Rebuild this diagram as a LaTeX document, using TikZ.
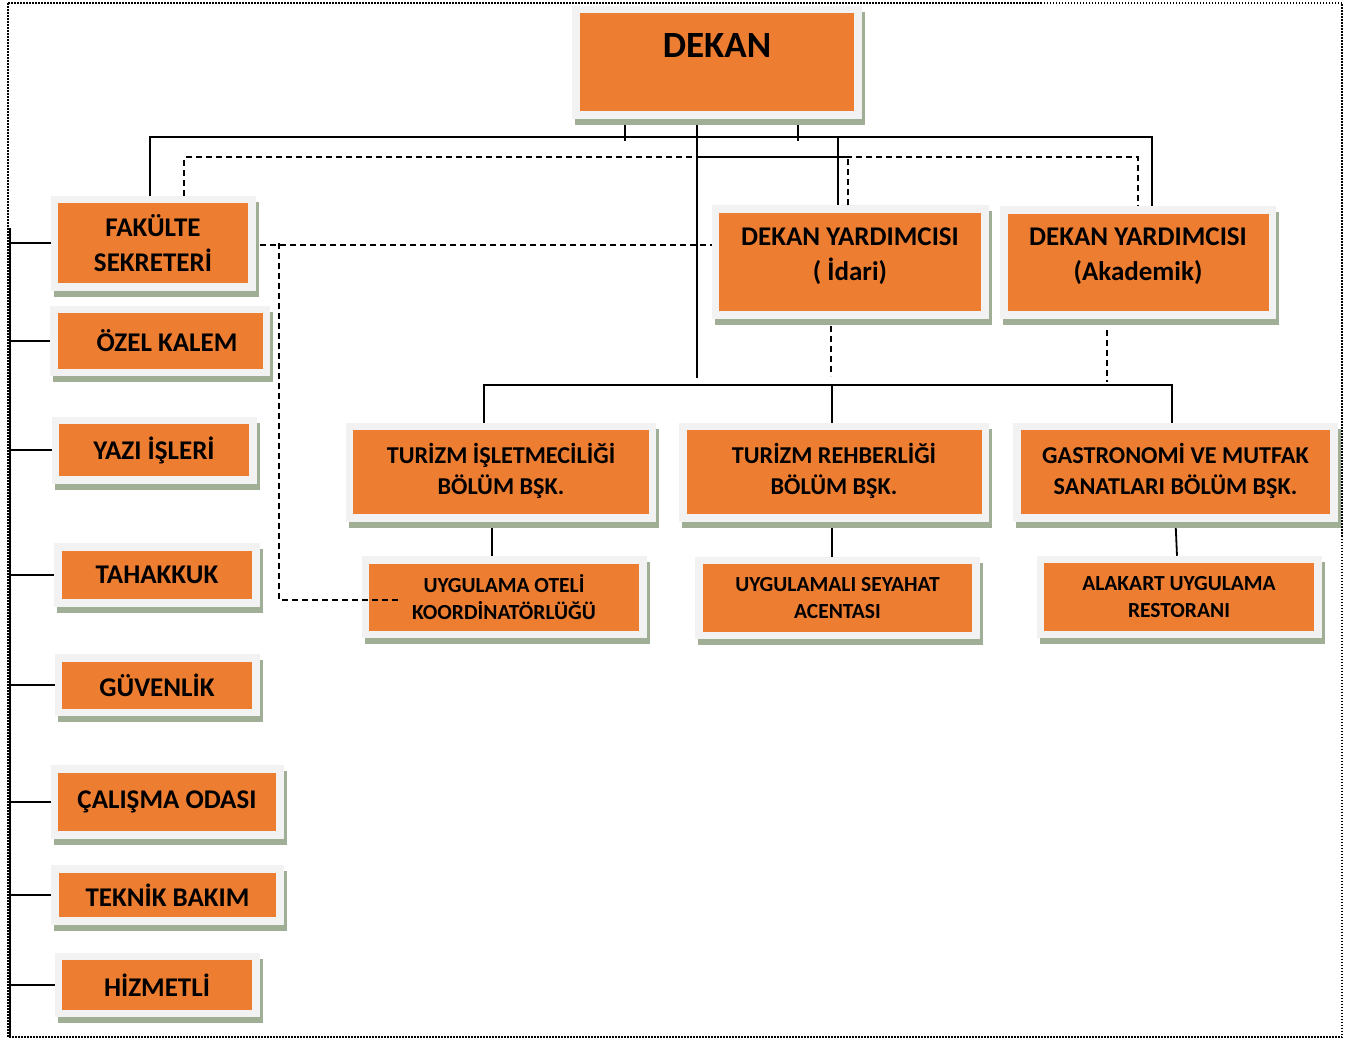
\documentclass[tikz,border=0pt]{standalone}
\usepackage{fontspec}
\setmainfont{Carlito}
\usetikzlibrary{shadows,backgrounds}

\definecolor{unitorange}{HTML}{ED7D31}
\definecolor{unitframe}{HTML}{F2F2F2}
\definecolor{unitshade}{HTML}{A0AE96}

\tikzset{
  unit/.style={rectangle, fill=unitorange, draw=unitframe, line width=7.5pt,
    inner sep=0pt, align=center,
    drop shadow={shadow xshift=3pt, shadow yshift=-6pt, fill=unitshade,
      draw=unitshade, line width=7.5pt, opacity=1}},
  toptext/.style={font=\bfseries\fontsize{37}{40}\selectfont},
  midtext/.style={font=\bfseries\fontsize{27}{35}\selectfont},
  depttext/.style={font=\bfseries\fontsize{24.2}{31}\selectfont},
  subtext/.style={font=\bfseries\fontsize{21.5}{27.5}\selectfont},
  tie/.style={line width=1.8pt},
  dashline/.style={line width=1.8pt, dash pattern=on 6pt off 4pt},
}

\begin{document}
\begin{tikzpicture}[x=1pt, y=-1pt]
\useasboundingbox (0,0) rectangle (1355,1042);
%page frame
\draw[line width=1.5pt, dash pattern=on 1.5pt off 1.5pt] (8,3) rectangle (1342,1037);

%junctions
\coordinate (bus) at (697,137);
\coordinate (dbus) at (697,157);
\coordinate (stop) at (697,378);
\coordinate (lbus) at (832,385);
\coordinate (spine) at (10,228);
\coordinate (spineEnd) at (10,1037);
\coordinate (otelTurn) at (279,600);

%dean
\node (dekan) [unit, toptext, minimum width=282, minimum height=105.5, text height=24, text depth=34] at (717,62) {DEKAN};

%left column
\node (sekreter) [unit, midtext, minimum width=197.5, minimum height=87.5] at (153,243) {FAKÜLTE\\SEKRETERİ};
\node (kalem) [unit, midtext, minimum width=212.5, minimum height=63] at (160,341) {\hspace{14pt}ÖZEL KALEM};
\node (yazi) [unit, midtext, minimum width=197.5, minimum height=59.5] at (154,450) {YAZI İŞLERİ};
\node (tahakkuk) [unit, midtext, minimum width=198, minimum height=56] at (157,575) {TAHAKKUK};
\node (guvenlik) [unit, midtext, minimum width=197.5, minimum height=54.5] at (157,685) {GÜVENLİK};
\node (calisma) [unit, midtext, minimum width=225.5, minimum height=66] at (167,802) {ÇALIŞMA ODASI};
\node (teknik) [unit, midtext, minimum width=225, minimum height=52] at (167.5,895) {TEKNİK BAKIM};
\node (hizmetli) [unit, midtext, minimum width=197.5, minimum height=57] at (157,985) {HİZMETLİ};

%vice deans
\node (yrdIdr) [unit, midtext, minimum width=269.5, minimum height=106, text depth=16] at (850,262) {DEKAN YARDIMCISI\\( İdari)};
\node (yrdAkd) [unit, midtext, minimum width=268.5, minimum height=105, text depth=16] at (1138,262.5) {DEKAN YARDIMCISI\\(Akademik)};

%departments
\node (isletme) [unit, depttext, minimum width=303, minimum height=91.5, text depth=6] at (501,472) {TURİZM İŞLETMECİLİĞİ\\BÖLÜM BŞK.};
\node (rehber) [unit, depttext, minimum width=302.5, minimum height=91.5, text depth=6] at (834,472) {TURİZM REHBERLİĞİ\\BÖLÜM BŞK.};
\node (gastro) [unit, depttext, minimum width=317, minimum height=91.5, text depth=6] at (1175.5,472) {GASTRONOMİ VE MUTFAK\\SANATLARI BÖLÜM BŞK.};

%units
\node (otel) [unit, subtext, minimum width=277.5, minimum height=74.5] at (504,597) {UYGULAMA OTELİ\\KOORDİNATÖRLÜĞÜ};
\node (seyahat) [unit, subtext, minimum width=277, minimum height=75] at (837.5,598) {UYGULAMALI SEYAHAT\\ACENTASI};
\node (alakart) [unit, subtext, minimum width=277.5, minimum height=75] at (1179,597) {ALAKART UYGULAMA\\RESTORANI};

\begin{scope}[on background layer]
%solid ties
\draw[tie] ([xshift=-3]sekreter.north) |- (bus) -| ([xshift=14]yrdAkd.north);
\foreach \dx in {-92,81}
   \draw[tie] ([xshift=\dx]dekan.south) -- ++(0,22.5);
\draw[tie] ([xshift=-20]dekan.south) -- (stop);
\draw[tie] ([xshift=-12]yrdIdr.north) |- (bus);
\draw[tie] ([xshift=-17]isletme.north) |- (lbus) -| ([xshift=-3.5]gastro.north);
\draw[tie] (lbus) -- (lbus |- rehber.north);
\draw[tie] ([xshift=-9]isletme.south) -- ([xshift=-12]otel.north);
\draw[tie] ([xshift=-2]rehber.south) -- ([xshift=-5.5]seyahat.north);
\draw[tie] (gastro.south) -- ([xshift=-2]alakart.north);
%left column
\draw[tie] (spine) -- (spineEnd);
\foreach \n in {sekreter,kalem,yazi,tahakkuk,guvenlik,calisma,teknik,hizmetli}
   \draw[tie] (spine |- \n.west) -- (\n.west);
\end{scope}

%dashed ties
\draw[dashline] ([xshift=31]sekreter.north) |- (dbus) -| (yrdAkd.north);
\draw[dashline] ([xshift=-2]yrdIdr.north) |- (dbus);
\draw[dashline] ([xshift=4, yshift=-2]sekreter.east) -- ([yshift=-2]sekreter.east -| yrdIdr.west);
\draw[dashline] (otelTurn |- sekreter.east) -- (otelTurn) -- ++(121,0);
\draw[dashline] ([xshift=-19, yshift=-7]yrdIdr.south) -- ++(0,50);
\draw[dashline] ([xshift=-31, yshift=-11]yrdAkd.south) -- ++(0,52);
\end{tikzpicture}
\end{document}
